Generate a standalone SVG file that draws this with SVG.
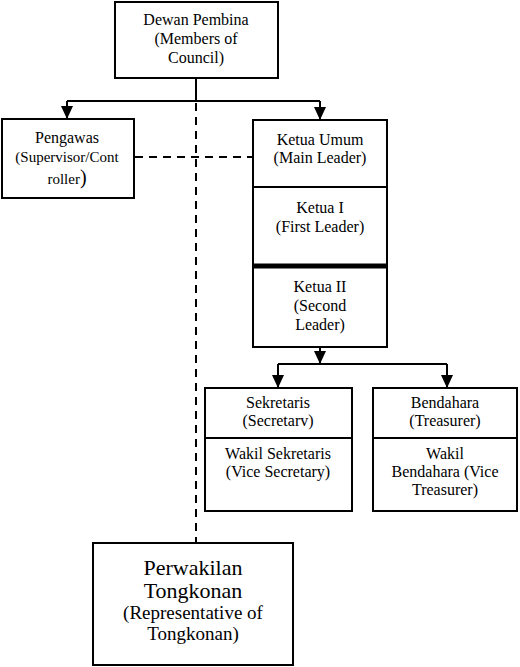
<svg xmlns="http://www.w3.org/2000/svg" width="520" height="667" viewBox="0 0 520 667">
<style>
.box{fill:#fff;stroke:#000;stroke-width:2}
.ln{fill:none;stroke:#000;stroke-width:2}
.dash{fill:none;stroke:#000;stroke-width:2;stroke-dasharray:8 6}
text{font-family:"Liberation Serif","Times New Roman",serif;font-size:16px;fill:#000;text-anchor:middle}
.s15{font-size:15px}
.big{font-size:22px}
.mid{font-size:19px}
</style>
<defs>
<marker id="ad" markerUnits="userSpaceOnUse" markerWidth="12" markerHeight="13" refX="6" refY="13" orient="0" viewBox="0 0 12 13">
<path d="M0,0 L12,0 L6,13 Z" fill="#000"/>
</marker>
</defs>
<g id="connectors">
<path class="ln" d="M196,78 V101 M67,101 H320"/>
<path class="ln" d="M67,101 V119" marker-end="url(#ad)"/>
<path class="ln" d="M320,101 V120" marker-end="url(#ad)"/>
<path class="dash" d="M196,103 V543"/>
<path class="dash" d="M135,157 H253"/>
<path class="ln" d="M320,347 V364" marker-end="url(#ad)"/>
<path class="ln" d="M278,364 H447"/>
<path class="ln" d="M278,364 V388" marker-end="url(#ad)"/>
<path class="ln" d="M447,364 V388" marker-end="url(#ad)"/>
</g>
<g id="dewan-pembina">
<rect class="box" x="115" y="2" width="163" height="76"/>
<text x="196" y="25">Dewan Pembina</text>
<text x="196" y="44">(Members of</text>
<text x="196" y="63">Council)</text>
</g>
<g id="pengawas">
<rect class="box" x="2" y="119" width="132" height="79"/>
<text x="67" y="143">Pengawas</text>
<text class="s15" x="67" y="162">(Supervisor/Cont</text>
<text x="67" y="184"><tspan class="s15">roller</tspan><tspan font-size="20">)</tspan></text>
</g>
<g id="ketua">
<rect class="box" x="253" y="120" width="134" height="227"/>
<line class="ln" x1="253" y1="187" x2="387" y2="187"/>
<line x1="253" y1="266" x2="387" y2="266" stroke="#000" stroke-width="5"/>
<text x="320" y="145">Ketua Umum</text>
<text x="320" y="163">(Main Leader)</text>
<text x="320" y="213">Ketua I</text>
<text x="320" y="232">(First Leader)</text>
<text x="320" y="292">Ketua II</text>
<text x="320" y="311">(Second</text>
<text x="320" y="330">Leader)</text>
</g>
<g id="sekretaris">
<rect class="box" x="205" y="388" width="147" height="123"/>
<line class="ln" x1="205" y1="438" x2="352" y2="438"/>
<text x="278" y="408">Sekretaris</text>
<text x="278" y="426">(Secretarv)</text>
<text x="278" y="459">Wakil Sekretaris</text>
<text x="278" y="477">(Vice Secretary)</text>
</g>
<g id="bendahara">
<rect class="box" x="373" y="388" width="144" height="123"/>
<line class="ln" x1="373" y1="438" x2="517" y2="438"/>
<text x="445" y="408">Bendahara</text>
<text x="445" y="426">(Treasurer)</text>
<text x="445" y="459">Wakil</text>
<text x="445" y="477">Bendahara (Vice</text>
<text x="445" y="495">Treasurer)</text>
</g>
<g id="perwakilan">
<rect class="box" x="93" y="543" width="200" height="122"/>
<text class="big" x="193" y="575">Perwakilan</text>
<text class="big" x="193" y="598">Tongkonan</text>
<text class="mid" x="193" y="619">(Representative of</text>
<text class="mid" x="193" y="640">Tongkonan)</text>
</g>
</svg>
